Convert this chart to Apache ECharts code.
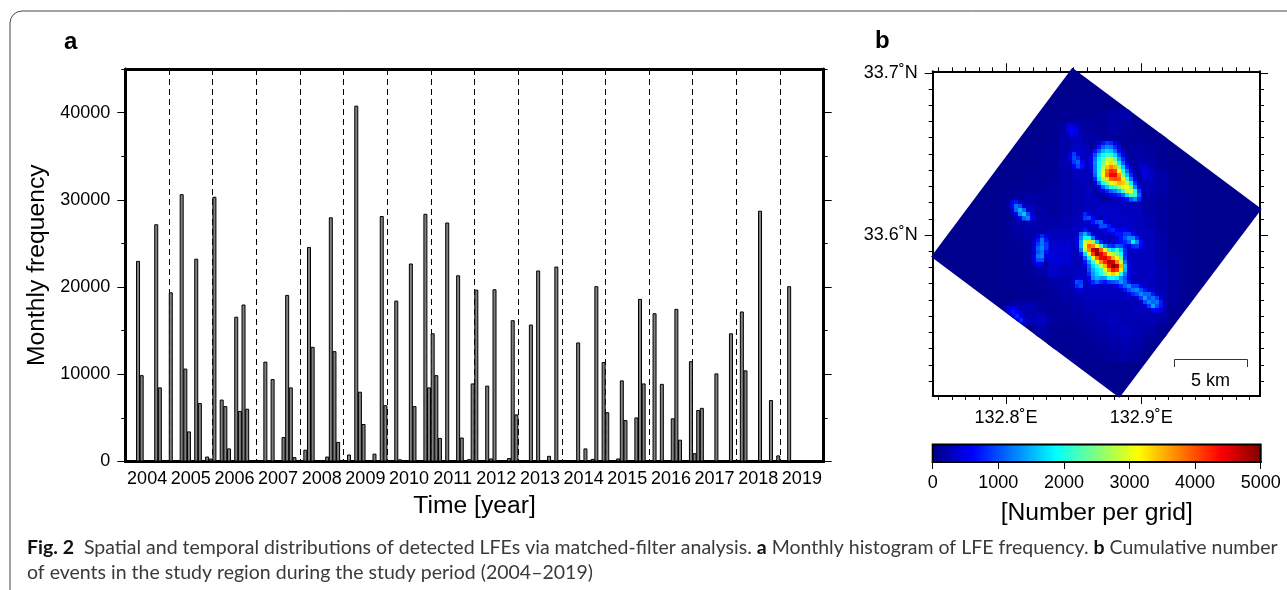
<!DOCTYPE html>
<html>
<head>
<meta charset="utf-8">
<style>
  html, body { margin: 0; padding: 0; background: #fff; }
  #main { width: 1287px; height: 590px; }
</style>
<script src="https://cdn.jsdelivr.net/npm/echarts@6/dist/echarts.min.js"></script>
</head>
<body>
<div id="main"></div>
<script>
  // panel a: monthly LFE counts, one list per year (Jan..Dec)
  const years = ['2004','2005','2006','2007','2008','2009','2010','2011','2012','2013','2014','2015','2016','2017','2018','2019']
  const freq2004 = [0,0,0,23000,9900,0,0,0,27200,8500,0,0]
  const freq2005 = [19400,0,0,30650,10650,3450,0,23250,6700,0,570,340]
  const freq2006 = [30350,0,7100,6350,1500,0,16600,5800,18000,6050,0,0]
  const freq2007 = [0,0,11450,0,9450,0,0,2800,19100,8500,500,0]
  const freq2008 = [0,1350,24600,13150,0,0,0,570,28000,12650,2250,0]
  const freq2009 = [0,800,0,40800,8000,4300,0,0,900,0,28150,6450]
  const freq2010 = [0,0,18450,250,0,0,22700,6350,0,0,28400,8500]
  const freq2011 = [14700,9900,2700,0,27400,0,0,21350,2750,0,270,8950]
  const freq2012 = [19700,0,0,8700,350,19750,0,0,0,400,16200,5400]
  const freq2013 = [0,0,0,15700,0,21900,0,0,650,0,22350,0]
  const freq2014 = [0,0,0,0,13650,0,1500,0,300,20100,0,11400]
  const freq2015 = [5650,0,0,350,9300,4750,0,0,5050,18650,8950,0]
  const freq2016 = [0,17000,0,8900,0,0,4950,17500,2500,0,0,11500]
  const freq2017 = [950,5900,6150,0,0,0,10100,0,0,0,14700,0]
  const freq2018 = [0,17200,10450,0,0,0,28750,0,0,7050,0,700]
  const freq2019 = [0,0,20100,0,0,0,0,0,0,0,0,0]
  const monthly = [].concat(freq2004,freq2005,freq2006,freq2007,freq2008,freq2009,freq2010,freq2011,freq2012,freq2013,freq2014,freq2015,freq2016,freq2017,freq2018,freq2019)
  const months = monthly.map((v, i) => years[Math.floor(i / 12)] + '-' + (i % 12 + 1))

  const freqMajor = [0,10000,20000,30000,40000]
  const freqMinor = [0,5000,10000,15000,20000,25000,30000,35000,40000,45000]

  // panel b: map axes
  const lonRange = [132.7458, 132.9877]
  const latRange = [33.5008, 33.7009]
  const lonMajor = [132.8, 132.9]
  const latMajor = [33.6, 33.7]
  const lonMinor = [132.75,132.76,132.77,132.78,132.79,132.8,132.81,132.82,132.83,132.84,132.85,132.86,132.87,132.88,132.89,132.9,132.91,132.92,132.93,132.94,132.95,132.96,132.97,132.98]
  const latMinor = [33.51,33.52,33.53,33.54,33.55,33.56,33.57,33.58,33.59,33.6,33.61,33.62,33.63,33.64,33.65,33.66,33.67,33.68,33.69,33.7]

  // corners of the study region (lon, lat)
  const regionCorners = [[132.849,33.7031],[132.9889,33.616],[132.8838,33.4997],[132.7446,33.5866]]
  const regionBase = 70

  // counts per grid
  const fieldBroad = [
    [0,0,0,0,0,100,100,100,120,180,200,0,0,0,0,0],
    [0,0,0,0,100,150,200,150,120,200,150,100,0,0,0,0],
    [0,0,0,0,100,200,300,200,150,150,120,120,100,100,0,0],
    [0,0,0,100,120,200,350,300,200,150,150,200,150,100,0,0],
    [0,0,0,100,100,250,400,300,250,200,200,250,200,120,0,0],
    [0,0,100,100,120,200,300,300,300,250,250,300,300,200,100,0],
    [0,100,100,120,150,200,250,300,300,250,300,300,250,200,120,0],
    [100,120,200,150,150,200,250,300,300,300,300,250,200,150,120,100],
    [100,200,300,200,150,200,250,300,350,350,300,300,200,150,100,100],
    [100,200,250,200,200,250,300,350,400,350,350,300,250,150,100,100],
    [100,150,200,200,300,300,300,350,350,300,350,350,300,200,100,100],
    [100,100,150,250,400,400,300,300,300,300,300,350,300,200,120,100],
    [100,100,150,300,450,400,300,300,300,300,300,300,300,200,150,100],
    [100,100,120,200,350,300,300,350,350,300,300,300,300,250,150,100],
    [100,100,100,120,200,250,350,400,350,350,300,300,300,250,150,100],
    [0,100,100,100,150,200,250,300,300,300,300,300,300,250,150,100],
    [0,200,250,150,120,150,200,250,250,250,250,300,300,250,120,0],
    [0,0,250,300,150,120,150,200,250,300,250,250,250,200,0,0],
    [0,0,0,200,120,100,120,150,200,250,300,250,200,100,0,0],
    [0,0,0,0,100,100,100,120,150,200,250,200,100,0,0,0],
    [0,0,0,0,0,0,100,100,120,150,200,150,0,0,0,0]
  ]
  const spotNorth = [
    [100,200,400,700,900,800,500,250,100,0,0,0,0],
    [150,300,700,1100,1300,1200,800,400,200,100,0,0,0],
    [300,700,1100,1500,1700,1600,1200,700,300,150,0,0,0],
    [500,1000,1600,1900,2200,2100,1700,1000,500,200,100,0,0],
    [600,1200,1800,2300,2800,2900,2300,1400,800,300,150,0,0],
    [600,1300,1900,2500,3100,3300,2800,1800,1100,500,200,100,0],
    [500,1200,1900,2800,3400,3700,3500,2500,1600,800,300,150,0],
    [400,1200,2000,3000,3800,4200,4100,3100,2000,1200,500,200,100],
    [300,1100,2100,3100,3900,4400,4400,3700,2600,1600,800,300,100],
    [200,800,1800,2700,3300,3900,4000,3900,3200,2200,1200,500,150],
    [100,400,1200,1900,2500,3000,3200,3500,3400,2800,1800,800,300],
    [0,200,600,1100,1600,2000,2200,2600,3000,3100,2500,1300,500],
    [0,100,300,500,800,1100,1300,1600,2200,2900,3000,2000,900],
    [0,0,100,200,300,500,600,800,1100,1700,2300,2100,1100],
    [0,0,0,100,150,200,300,300,500,700,1100,1300,800]
  ]
  const spotSouth = [
    [0,0,300,800,500,0,0,0,0,0,0,0,0,0,0,0,0,0,0,0,0,0,0,0],
    [0,0,300,900,1000,600,300,200,0,0,0,0,0,0,0,0,0,0,0,0,0,0,0,0],
    [0,0,0,0,400,700,1000,1100,500,300,0,0,0,0,0,0,0,0,0,0,0,0,0,0],
    [0,0,0,0,0,0,500,1000,1000,700,400,300,0,0,0,0,0,0,0,0,0,0,0,0],
    [0,0,400,700,0,0,0,0,500,700,800,600,500,600,400,0,0,0,0,0,0,0,0,0],
    [0,300,1100,1500,1000,400,0,0,0,0,500,700,700,900,900,600,300,0,0,0,0,0,0,0],
    [0,500,1300,1900,1900,1200,500,300,0,0,0,500,700,1000,1300,1300,800,300,0,0,0,0,0,0],
    [0,600,1500,2800,3300,2600,1500,800,400,300,400,500,700,800,1100,1800,1300,600,0,0,0,0,0,0],
    [0,500,1500,3000,3900,3700,3100,2100,1300,900,800,1100,1000,700,500,800,900,600,0,0,0,0,0,0],
    [0,300,1200,2900,3700,4600,4800,3900,3000,2000,1700,2100,1600,800,300,0,0,0,0,0,0,0,0,0],
    [0,0,700,1700,3000,4100,4900,4500,4000,3200,2700,2400,1900,800,300,0,0,0,0,0,0,0,0,0],
    [0,0,300,1100,2000,3100,3900,4400,4500,4100,3500,3000,2300,900,300,0,0,0,0,0,0,0,0,0],
    [0,0,0,700,1400,2200,3100,3700,4200,4700,4600,3700,2800,1200,400,0,0,0,0,0,0,0,0,0],
    [0,0,0,500,1100,1700,2200,2900,3500,4400,5000,4700,3500,1600,500,0,0,0,0,0,0,0,0,0],
    [0,0,0,300,1000,1500,1800,2200,3000,3700,4300,4100,3200,1500,500,0,0,0,0,0,0,0,0,0],
    [0,0,0,0,800,1400,1700,2000,2500,3100,3400,3000,2000,1200,500,0,0,0,0,0,0,0,0,0],
    [0,500,400,0,500,1300,1500,1400,1400,1900,2000,1800,1300,1000,500,0,0,0,0,0,0,0,0,0],
    [400,1000,900,300,0,800,1100,800,700,900,1000,1100,1400,1100,700,300,0,0,0,0,0,0,0,0],
    [300,800,1000,300,0,0,400,300,0,300,400,600,800,1100,1300,900,900,600,300,0,0,0,0,0],
    [0,400,500,0,0,0,0,0,0,0,0,300,400,700,1000,1200,1300,1000,700,400,0,0,0,0],
    [0,0,0,0,0,0,0,0,0,0,0,0,0,300,500,800,1000,1300,1100,1100,700,300,0,0],
    [0,0,0,0,0,0,0,0,0,0,0,0,0,0,0,300,500,900,1400,1000,1200,900,400,0],
    [0,0,0,0,0,0,0,0,0,0,0,0,0,0,0,0,200,400,1000,1300,1100,1200,700,200],
    [0,0,0,0,0,0,0,0,0,0,0,0,0,0,0,0,0,0,500,900,1400,1000,700,300],
    [0,0,0,0,0,0,0,0,0,0,0,0,0,0,0,0,0,0,0,300,600,600,400,0]
  ]
  const streakWest = [
    [500,700,300,0,0,0],
    [600,1200,1000,400,0,0],
    [300,1100,1500,1100,400,0],
    [0,500,1300,1600,1000,400],
    [0,0,500,1100,1300,600]
  ]
  const blobMiddle = [
    [0,400,800,500],
    [300,700,1200,700],
    [400,900,1200,900],
    [500,1100,1300,900],
    [400,1000,1200,700],
    [500,1200,1300,500],
    [500,1000,1000,400],
    [300,600,500,100]
  ]
  const blobNorthWest = [
    [400,900,500,0],
    [500,1000,800,300],
    [300,900,1100,600],
    [200,600,1000,700]
  ]
  const faintNorth = [
    [400,500,300],
    [500,600,500],
    [300,600,500],
    [200,400,300]
  ]
  const edgeSouthWest = [
    [300,500,500,400,200,0],
    [0,500,700,600,400,0],
    [0,0,600,800,500,200],
    [0,0,0,600,800,400]
  ]
  const faintEast = [
    [300,400,300],
    [400,500,400],
    [300,500,400],
    [200,400,400]
  ]

  const cellLon = 0.002956
  const cellLat = 0.002465
  // [values, lon of first cell, lat of first row, cells per value]
  const patches = [
    [fieldBroad, 132.7993, 33.6739, 3],
    [faintNorth, 132.8458, 33.6678, 1],
    [faintEast, 132.899, 33.6431, 1],
    [edgeSouthWest, 132.7993, 33.555, 1],
    [streakWest, 132.8044, 33.6203, 1],
    [blobMiddle, 132.8207, 33.5994, 1],
    [blobNorthWest, 132.8473, 33.6499, 1],
    [spotNorth, 132.8628, 33.6567, 1],
    [spotSouth, 132.8495, 33.6129, 1]
  ]
  const cells = []
  patches.forEach(p => {
    p[0].forEach((row, r) => row.forEach((v, c) => {
      if (v > 0) cells.push([p[1] + c * cellLon * p[3], p[2] - r * cellLat * p[3], v, p[3]])
    }))
  })

  const jet = ['#000080','#0000ff','#0080ff','#00ffff','#80ff80','#ffff00','#ff8000','#ff0000','#800000']

  const textFont = 'Liberation Sans'
  const labelSize = 18
  const nameSize = 24.7

  function hideAxis(a) {
    return Object.assign({
      axisLine: {show: false}, axisTick: {show: false}, axisLabel: {show: false}, splitLine: {show: false}
    }, a)
  }

  // one side of a frame: ticks at given values, no labels
  function ticks(pos, grid, range, values, len, lw) {
    return {
      type: 'value', gridIndex: grid, position: pos, min: range[0], max: range[1],
      axisLine: {show: lw > 0, onZero: false, lineStyle: {color: '#000', width: lw}},
      axisTick: {show: true, length: len, customValues: values, lineStyle: {color: '#000', width: 1}},
      axisLabel: {show: false}, splitLine: {show: false}, minorTick: {show: false}
    }
  }

  const xAxes = [
    hideAxis({type: 'category', gridIndex: 0, data: months}),
    {
      type: 'category', gridIndex: 0, position: 'bottom', data: years,
      axisLine: {onZero: false, lineStyle: {color: '#000', width: 3}},
      axisTick: {length: 8, lineStyle: {color: '#000', width: 1}},
      axisLabel: {interval: 0, color: '#000', fontFamily: textFont, fontSize: labelSize, margin: 9},
      splitLine: {show: true, interval: 0, lineStyle: {color: '#000', width: 1, type: [6, 4]}},
      name: 'Time [year]', nameLocation: 'middle', nameGap: 31,
      nameTextStyle: {color: '#000', fontFamily: textFont, fontSize: nameSize}
    },
    {
      type: 'category', gridIndex: 0, position: 'top', data: years,
      axisLine: {onZero: false, lineStyle: {color: '#000', width: 3}},
      axisTick: {length: 8, lineStyle: {color: '#000', width: 1}},
      axisLabel: {show: false}, splitLine: {show: false}
    },
    ticks('top', 1, lonRange, lonMinor, 4, 2),
    ticks('top', 1, lonRange, lonMajor, 8, 0),
    ticks('bottom', 1, lonRange, lonMinor, 4, 2),
    Object.assign(ticks('bottom', 1, lonRange, lonMajor, 8, 0), {
      axisLabel: {show: true, customValues: lonMajor, formatter: v => v.toFixed(1) + '˚E', color: '#000', fontFamily: textFont, fontSize: labelSize, margin: 13}
    }),
    {
      type: 'value', gridIndex: 2, position: 'bottom', min: 0, max: 5000, interval: 1000,
      axisLine: {onZero: false, lineStyle: {color: '#000', width: 2}},
      axisTick: {length: 7, lineStyle: {color: '#000', width: 1}},
      axisLabel: {color: '#000', fontFamily: textFont, fontSize: labelSize, margin: 12, formatter: v => String(v)},
      splitLine: {show: false},
      name: '[Number per grid]', nameLocation: 'middle', nameGap: 39,
      nameTextStyle: {color: '#000', fontFamily: textFont, fontSize: nameSize}
    }
  ]

  const freqRange = [0, 45000]
  const yAxes = [
    ticks('left', 0, freqRange, freqMinor, 4, 3),
    Object.assign(ticks('left', 0, freqRange, freqMajor, 8, 0), {
      axisLabel: {show: true, customValues: freqMajor, formatter: v => String(v), color: '#000', fontFamily: textFont, fontSize: labelSize, margin: 15},
      name: 'Monthly frequency', nameLocation: 'middle', nameGap: 73,
      nameTextStyle: {color: '#000', fontFamily: textFont, fontSize: nameSize}
    }),
    ticks('right', 0, freqRange, freqMinor, 4, 3),
    ticks('right', 0, freqRange, freqMajor, 8, 0),
    ticks('left', 1, latRange, latMinor, 4, 2),
    Object.assign(ticks('left', 1, latRange, latMajor, 8, 0), {
      axisLabel: {show: true, customValues: latMajor, formatter: v => v.toFixed(1) + '˚N', color: '#000', fontFamily: textFont, fontSize: labelSize, margin: 15}
    }),
    ticks('right', 1, latRange, latMinor, 4, 2),
    ticks('right', 1, latRange, latMajor, 8, 0),
    hideAxis({type: 'value', gridIndex: 2, min: 0, max: 1})
  ]

  const captionText = '{h|Fig. 2}  Spatial and temporal distributions of detected LFEs via matched-filter analysis. {h|a} Monthly histogram of LFE frequency. {h|b} Cumulative number\nof events in the study region during the study period (2004–2019)'

  const option = {
    animation: false,
    backgroundColor: '#fff',
    grid: [
      {left: 125.3, top: 69, width: 698.4, height: 392.5},
      {left: 932.7, top: 71.3, width: 327.3, height: 324.7},
      {left: 932.7, top: 444.5, width: 328, height: 17.5}
    ],
    xAxis: xAxes,
    yAxis: yAxes,
    visualMap: {
      show: false, type: 'continuous', min: 0, max: 5000, dimension: 2,
      seriesIndex: [1, 2], inRange: {color: jet}
    },
    series: [
      {
        type: 'bar', xAxisIndex: 0, yAxisIndex: 0, data: monthly,
        barWidth: 4, silent: true,
        itemStyle: {color: '#808080', borderColor: '#000', borderWidth: 1}
      },
      {
        // study region
        type: 'custom', xAxisIndex: 3, yAxisIndex: 4, clip: false, silent: true,
        data: [[regionCorners[0][0], regionCorners[0][1], regionBase]],
        renderItem(params, api) {
          return {
            type: 'polygon',
            shape: {points: regionCorners.map(c => api.coord(c))},
            style: {fill: api.visual('color')}
          }
        }
      },
      {
        type: 'custom', xAxisIndex: 3, yAxisIndex: 4, clip: false, silent: true,
        data: cells,
        dimensions: ['lon', 'lat', 'count', 'scale'],
        renderItem(params, api) {
          const s = api.value(3)
          const a = api.coord([api.value(0) - cellLon * s / 2, api.value(1) + cellLat * s / 2])
          const b = api.coord([api.value(0) + cellLon * s / 2, api.value(1) - cellLat * s / 2])
          return {
            type: 'rect',
            shape: {x: a[0], y: a[1], width: b[0] - a[0] + 0.4, height: b[1] - a[1] + 0.4},
            style: {fill: api.visual('color')},
            clipPath: {type: 'polygon', shape: {points: regionCorners.map(c => api.coord(c))}}
          }
        }
      },
      {
        // colour scale
        type: 'custom', xAxisIndex: 7, yAxisIndex: 8, silent: true,
        data: [[0, 5000]],
        renderItem(params, api) {
          const a = api.coord([api.value(0), 1])
          const b = api.coord([api.value(1), 0])
          return {
            type: 'rect',
            shape: {x: a[0], y: a[1], width: b[0] - a[0], height: b[1] - a[1]},
            style: {
              fill: new echarts.graphic.LinearGradient(0, 0, 1, 0, jet.map((c, i) => ({offset: i / (jet.length - 1), color: c}))),
              stroke: '#000', lineWidth: 2
            }
          }
        }
      }
    ],
    graphic: [
      {type: 'rect', silent: true, z: -1, shape: {x: 10, y: 11, width: 1320, height: 600, r: 12}, style: {fill: 'none', stroke: '#444', lineWidth: 1}},
      {type: 'text', silent: true, x: 64, y: 30, style: {text: 'a', fontFamily: textFont, fontWeight: 'bold', fontSize: 24, fill: '#000'}},
      {type: 'text', silent: true, x: 875, y: 29, style: {text: 'b', fontFamily: textFont, fontWeight: 'bold', fontSize: 24, fill: '#000'}},
      // scale bar
      {type: 'polyline', silent: true, z: 5, shape: {points: [[1174.5, 367], [1174.5, 359.5], [1247.5, 359.5], [1247.5, 367]]}, style: {fill: 'none', stroke: '#333', lineWidth: 1}},
      {type: 'text', silent: true, z: 5, x: 1210.5, y: 381, style: {text: '5 km', align: 'center', verticalAlign: 'middle', fontFamily: textFont, fontSize: 18, fill: '#000'}},
      {
        type: 'text', silent: true, x: 27, y: 535,
        style: {
          text: captionText, fontFamily: 'Lato', fontSize: 19.5, fill: '#3a3a3a', lineHeight: 25,
          rich: {h: {fontFamily: 'Lato', fontWeight: 'bold', fontSize: 19.5, fill: '#111', lineHeight: 25}}
        }
      }
    ]
  }

  const chart = echarts.init(document.getElementById('main'), null, {renderer: 'canvas'})
  chart.setOption(option)
</script>
</body>
</html>
